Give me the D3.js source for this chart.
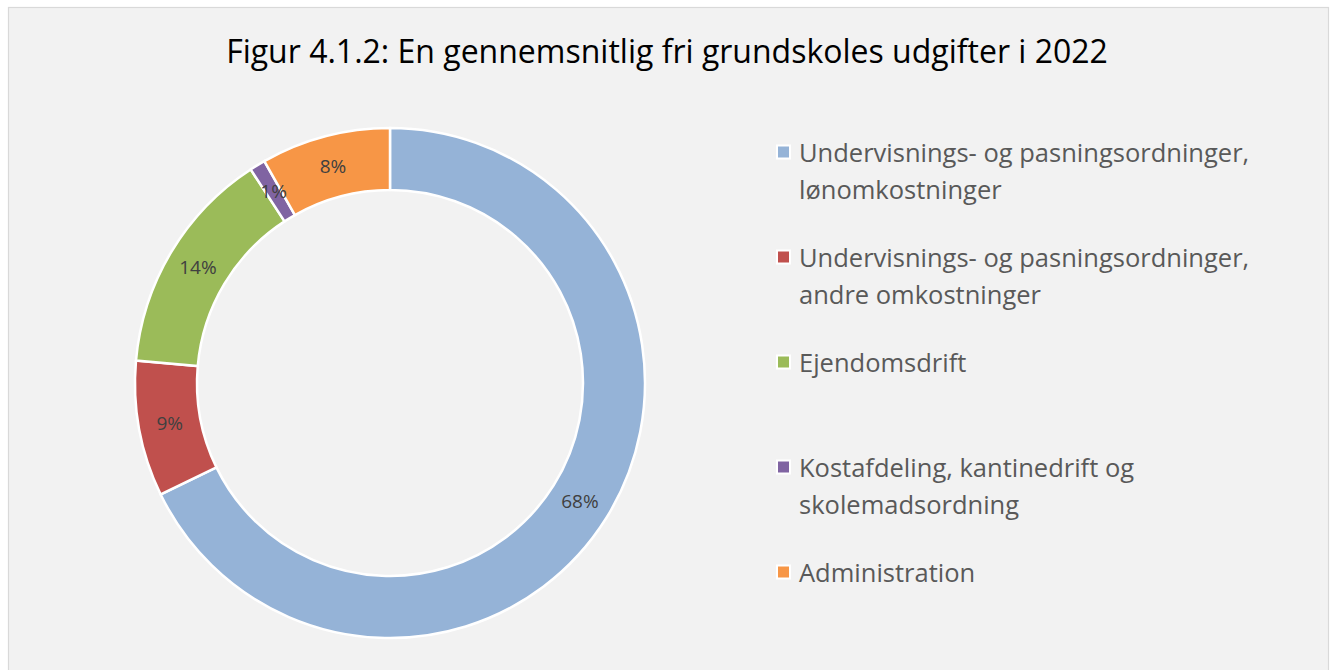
<!DOCTYPE html>
<html>
<head>
<meta charset="utf-8">
<script src="https://cdn.jsdelivr.net/npm/d3@7"></script>
<style>
  body { margin: 0; background: #ffffff; }
  svg { display: block; }
</style>
</head>
<body>
<script>
'use strict';

// chart values
const categories = [
  ["Undervisnings- og pasningsordninger,", "lønomkostninger"],
  ["Undervisnings- og pasningsordninger,", "andre omkostninger"],
  ["Ejendomsdrift"],
  ["Kostafdeling, kantinedrift og", "skolemadsordning"],
  ["Administration"]
];
const shares = [67.8, 8.6, 14.4, 1.0, 8.2];
const colors = ["#95b3d7", "#c0504d", "#9bbb59", "#8064a2", "#f79646"];
const title = "Figur 4.1.2: En gennemsnitlig fri grundskoles udgifter i 2022";

const width = 1333, height = 670;
const font = "'Open Sans', 'Noto Sans', sans-serif";

let svg = d3.select('body').append('svg')
  .attr('width', width)
  .attr('height', height);

// chart area with border
svg.append('rect')
  .attr('x', 8.5).attr('y', 7.5)
  .attr('width', 1320).attr('height', 680)
  .attr('fill', '#f2f2f2')
  .attr('stroke', '#d9d9d9')
  .attr('stroke-width', 1.2);

svg.append('text')
  .attr('x', 667).attr('y', 63)
  .attr('text-anchor', 'middle')
  .attr('font-family', font)
  .attr('font-size', 32)
  .attr('fill', '#000')
  .text(title);

// donut
let cx = 390, cy = 383;
let rOuter = 255, rInner = 193;

let pie = d3.pie().sort(null).value(d => d);
let arcs = pie(shares);
let arc = d3.arc().innerRadius(rInner).outerRadius(rOuter);

let g = svg.append('g').attr('transform', `translate(${cx},${cy})`);

g.selectAll('path')
  .data(arcs)
  .enter()
  .append('path')
    .attr('d', arc)
    .attr('fill', (d, i) => colors[i])
    .attr('stroke', '#ffffff')
    .attr('stroke-width', 2.5)
    .attr('stroke-linejoin', 'miter');

g.selectAll('.lbl')
  .data(arcs)
  .enter()
  .append('text')
    .attr('class', 'lbl')
    .attr('transform', d => `translate(${arc.centroid(d)})`)
    .attr('text-anchor', 'middle')
    .attr('dy', '0.35em')
    .attr('font-family', font)
    .attr('font-size', 19)
    .attr('fill', '#404040')
    .text(d => Math.round(d.data) + '%');

// legend
let legendY = d3.scalePoint()
  .domain(d3.range(categories.length))
  .range([152, 572]);

let legend = svg.append('g');
let items = legend.selectAll('g')
  .data(categories)
  .enter()
  .append('g')
    .attr('transform', (d, i) => `translate(777, ${legendY(i)})`);

items.append('rect')
  .attr('x', 0).attr('y', -6.5)
  .attr('width', 13).attr('height', 13)
  .attr('fill', (d, i) => colors[i])
  .attr('stroke', '#ffffff')
  .attr('stroke-width', 2);

items.each(function(lines) {
  let t = d3.select(this).append('text')
    .attr('font-family', font)
    .attr('font-size', 25.5)
    .attr('fill', '#595959');
  lines.forEach((line, j) => {
    t.append('tspan')
      .attr('x', 22)
      .attr('y', 10 + j * 37)
      .text(line);
  });
});
</script>
</body>
</html>
